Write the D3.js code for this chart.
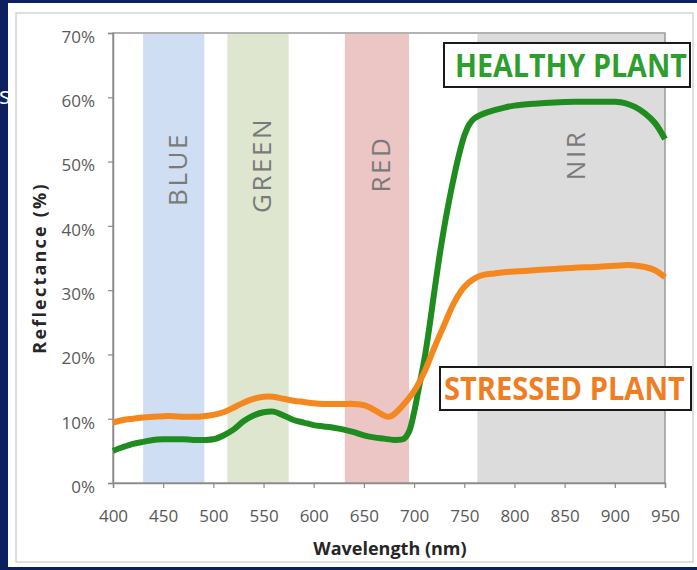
<!DOCTYPE html>
<html>
<head>
<meta charset="utf-8">
<script src="https://cdn.jsdelivr.net/npm/d3@7"></script>
<style>
  html, body { margin: 0; padding: 0; background: #0c1f5e; }
  svg { display: block; }
</style>
</head>
<body>
<svg id="chart" width="697" height="570"></svg>
<script>
// ---------- data ----------
const healthyNm = [400,410,420,430,440,450,460,470,480,490,500,510,520,530,540,550,560,570,580,590,600,610,620,630,640,650,660,670,680,690,695,700,705,710,715,720,725,730,735,740,745,750,755,760,770,780,790,800,820,840,860,880,900,910,920,930,940,950];
const healthyPct = [5.0,5.6,6.1,6.4,6.7,6.8,6.8,6.8,6.7,6.7,6.8,7.4,8.3,9.6,10.5,11.0,11.1,10.5,9.8,9.4,9.0,8.8,8.6,8.3,7.9,7.4,7.1,6.9,6.7,6.9,8.0,11.0,15.0,19.0,24.0,29.6,35.0,39.8,44.0,47.8,51.2,54.0,55.8,56.7,57.5,58.0,58.4,58.7,59.0,59.2,59.3,59.3,59.3,59.1,58.5,57.5,56.0,53.5];

const stressedNm = [400,410,420,430,440,450,460,470,480,490,500,510,520,530,540,550,560,570,580,590,600,610,620,630,640,650,660,670,675,680,690,700,710,720,730,740,750,760,770,780,790,800,820,840,860,880,900,915,930,940,950];
const stressedPct = [9.4,9.8,10.0,10.2,10.3,10.4,10.4,10.3,10.3,10.4,10.6,11.0,11.7,12.5,13.1,13.4,13.4,13.1,12.8,12.6,12.4,12.3,12.3,12.3,12.3,12.1,11.4,10.5,10.3,10.7,12.3,14.3,17.2,21.0,24.6,28.1,30.5,31.8,32.4,32.6,32.8,32.9,33.1,33.3,33.5,33.6,33.8,33.9,33.6,33.1,32.0];

const bandNames = ["BLUE", "GREEN", "RED", "NIR"];
const bandStart = [430, 514, 631, 763];
const bandEnd   = [491, 575, 695, 950];

const xTicks = [400,450,500,550,600,650,700,750,800,850,900,950];
const yTicks = [0,10,20,30,40,50,60,70];
const yTickLabels = ["0%","10%","20%","30%","40%","50%","60%","70%"];

const seriesNames = ["HEALTHY PLANT", "STRESSED PLANT"];

// ---------- styles ----------
const bandColors = ["#cfdef2", "#dfe6cf", "#ecc5c5", "#dcdcdc"];
const bandLabelY = [169, 165, 164, 155];
const FONT = "'Open Sans', 'DejaVu Sans', sans-serif";

const svg = d3.select("#chart");

// background panel
svg.append("rect").attr("x", 0).attr("y", 0).attr("width", 697).attr("height", 570).attr("fill", "#0c1f5e");
svg.append("rect").attr("x", 8).attr("y", 3).attr("width", 689).attr("height", 564).attr("fill", "#ffffff");
svg.append("rect").attr("x", 16).attr("y", 13).attr("width", 677).attr("height", 549)
  .attr("fill", "none").attr("stroke", "#d4d4d4").attr("stroke-width", 1.5);

// cut-off "s" at the left edge
svg.append("text").attr("x", -1).attr("y", 104).attr("font-family", FONT)
  .attr("font-size", 24).attr("fill", "#ffffff").text("s");

const x = d3.scaleLinear().domain([400, 950]).range([113, 665]);
const y = d3.scaleLinear().domain([0, 70]).range([483, 33]);

// bands
const bands = svg.append("g");
bandNames.forEach((name, i) => {
  bands.append("rect")
    .attr("x", x(bandStart[i])).attr("y", y(70) + 1)
    .attr("width", x(bandEnd[i]) - x(bandStart[i]))
    .attr("height", y(0) - y(70) - 1)
    .attr("fill", bandColors[i]);
  const cx = (x(bandStart[i]) + x(bandEnd[i])) / 2 + 4;
  bands.append("text")
    .attr("transform", `translate(${cx},${bandLabelY[i]}) rotate(-90)`)
    .attr("text-anchor", "middle").attr("dy", "0.36em")
    .attr("font-family", FONT).attr("font-size", 26)
    .attr("letter-spacing", 2.5)
    .attr("fill", "#7a7a7a").text(name);
});

// plot frame
svg.append("rect").attr("x", x(400)).attr("y", y(70)).attr("width", x(950) - x(400)).attr("height", y(0) - y(70))
  .attr("fill", "none").attr("stroke", "#9a9a9a").attr("stroke-width", 1.5);

// axes
const yAxis = d3.axisLeft(y).tickValues(yTicks).tickFormat((d, i) => yTickLabels[i]).tickSize(5).tickPadding(13);
const gy = svg.append("g").attr("transform", `translate(${x(400)},0)`).call(yAxis);
gy.select(".domain").attr("stroke", "#8a8a8a").attr("stroke-width", 1.5);
gy.selectAll(".tick line").attr("stroke", "#8a8a8a").attr("stroke-width", 1.2);
gy.selectAll(".tick text").attr("font-family", FONT).attr("font-size", 17).attr("fill", "#595959").attr("dy", "0.55em");

const xAxis = d3.axisBottom(x).tickValues(xTicks).tickFormat(d3.format("d")).tickSize(5).tickPadding(22);
const gx = svg.append("g").attr("transform", `translate(0,${y(0)})`).call(xAxis);
gx.select(".domain").attr("stroke", "#8a8a8a").attr("stroke-width", 1.5);
gx.selectAll(".tick line").attr("stroke", "#8a8a8a").attr("stroke-width", 1.2);
gx.selectAll(".tick text").attr("font-family", FONT).attr("font-size", 17).attr("fill", "#595959");

// axis titles
svg.append("text")
  .attr("transform", `translate(46,268) rotate(-90)`)
  .attr("text-anchor", "middle")
  .attr("font-family", FONT).attr("font-weight", "bold").attr("font-size", 18)
  .attr("fill", "#262626")
  .attr("letter-spacing", 2.2)
  .text("Reflectance (%)");
svg.append("text")
  .attr("x", 390).attr("y", 555)
  .attr("text-anchor", "middle")
  .attr("font-family", FONT).attr("font-weight", "bold").attr("font-size", 18)
  .attr("fill", "#262626")
  .text("Wavelength (nm)");

// lines
const line = d3.line().x(d => x(d[0])).y(d => y(d[1])).curve(d3.curveCatmullRom.alpha(0.5));
const healthy = healthyNm.map((n, i) => [n, healthyPct[i]]);
const stressed = stressedNm.map((n, i) => [n, stressedPct[i]]);

svg.append("path").datum(healthy).attr("d", line)
  .attr("fill", "none").attr("stroke", "#1f8c1f").attr("stroke-width", 6)
  .attr("stroke-linejoin", "round").attr("stroke-linecap", "butt");
svg.append("path").datum(stressed).attr("d", line)
  .attr("fill", "none").attr("stroke", "#f5871f").attr("stroke-width", 6)
  .attr("stroke-linejoin", "round").attr("stroke-linecap", "butt");

// labels with boxes
function boxLabel(text, bx, by, bw, bh, tx, ty, tw, color) {
  svg.append("rect").attr("x", bx).attr("y", by).attr("width", bw).attr("height", bh)
    .attr("fill", "#ffffff").attr("stroke", "#1a1a1a").attr("stroke-width", 2);
  const t = svg.append("text").attr("x", 0).attr("y", 0)
    .attr("font-family", FONT).attr("font-weight", "bold").attr("font-size", 32)
    .attr("fill", color)
    .text(text);
  const natural = t.node().getComputedTextLength() || tw;
  t.attr("transform", `translate(${tx},${ty}) scale(${tw / natural},1)`);
}
boxLabel(seriesNames[0], 444, 43, 246, 44, 455, 77, 232, "#2e9e2e");
boxLabel(seriesNames[1], 440, 367, 251, 43, 444, 400, 241, "#f07d1f");
</script>
</body>
</html>
